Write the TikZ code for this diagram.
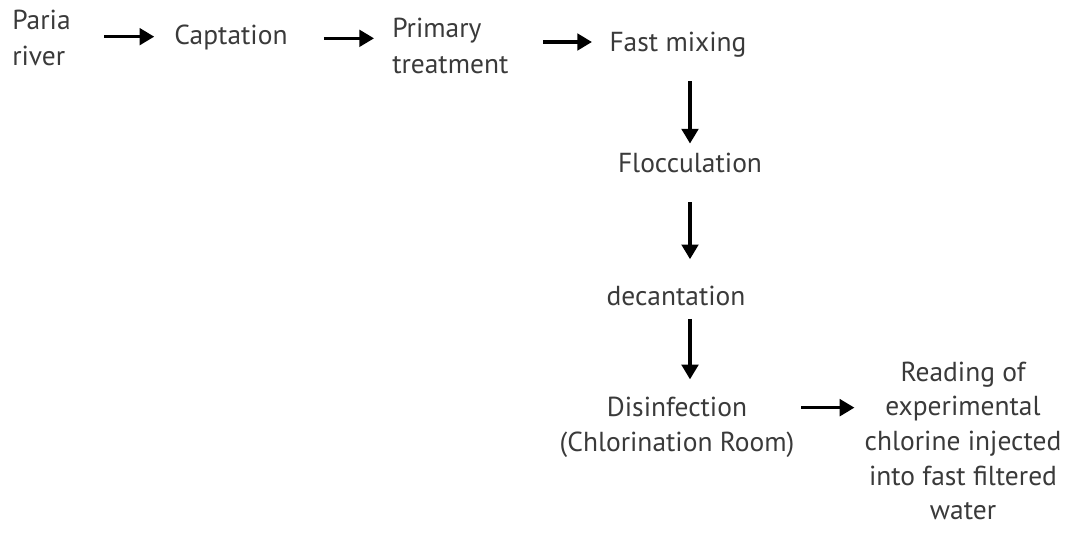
\documentclass[tikz,border=0pt]{standalone}
\usepackage{fontspec}
\setmainfont{PT Sans}
\usetikzlibrary{arrows.meta}
\definecolor{txtgray}{HTML}{3A3A3A}

\begin{document}
\begin{tikzpicture}[x=0.75pt,y=-0.75pt,
  step box/.style={inner sep=0pt,text=txtgray,font=\fontsize{20.6}{26}\selectfont},
  flow/.style={-{Triangle[length=11pt,width=12.5pt]},line width=2.3pt,black}]
\useasboundingbox (0,0) rectangle (1067,534);
% top row
\node[step box,align=left,anchor=west] (paria) at (12,38) {Paria\\[1.5pt]river};
\node[step box] (capt) at (231,37) {Captation};
\node[step box,align=left,anchor=west] (prim) at (392,46) {Primary\\[1.5pt]treatment};
\node[step box] (fast) at (678,45) {Fast mixing};
% column going down
\node[step box] (floc) at (690,163) {Flocculation};
\node[step box] (dec) at (676,296) {decantation};
\node[step box,align=center] (dis) at (677,427) {Disinfection\\(Chlorination Room)};
\node[step box,align=center] (read) at (963,441) {Reading of\\experimental\\chlorine injected\\into fast filtered\\water};
% arrows
\draw[flow,shorten <=25pt,shorten >=15pt] ([yshift=1pt]paria.east) -- ([yshift=1pt]paria.east -| capt.west);
\draw[flow,shorten <=27pt,shorten >=13.5pt] ([yshift=-1pt]capt.east) -- ([yshift=-1pt]capt.east -| prim.west);
\draw[flow,shorten <=26pt,shorten >=13pt] ([yshift=3pt]prim.east) -- ([yshift=3pt]prim.east -| fast.west);
\draw[flow,shorten <=17.5pt,shorten >=7pt] (fast.south -| floc) -- (floc.north);
\draw[flow,shorten <=22pt,shorten >=20pt] (floc.south) -- (floc |- dec.north);
\draw[flow,shorten <=9.5pt,shorten >=13pt] (dec.south -| floc) -- (floc |- dis.north);
\draw[flow,shorten <=5pt,shorten >=7.5pt] ([yshift=14.5pt]dis.east) -- ([yshift=14.5pt]dis.east -| read.west);
\end{tikzpicture}
\end{document}
